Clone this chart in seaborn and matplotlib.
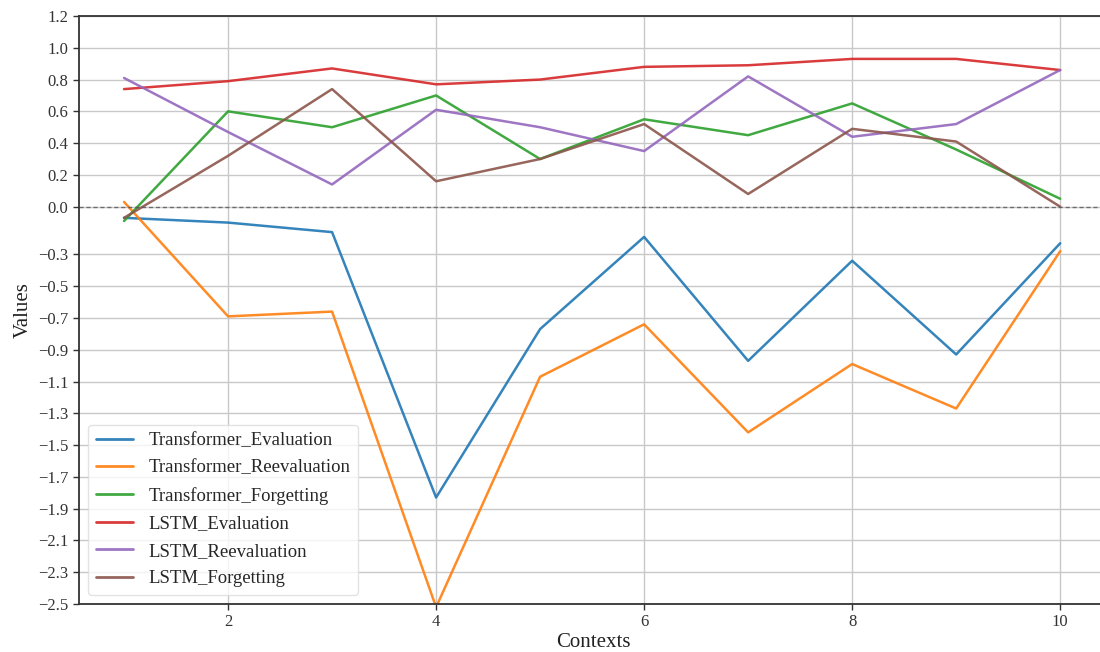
import matplotlib
matplotlib.use("Agg")
import matplotlib.pyplot as plt
import seaborn as sns
import pandas as pd
import numpy as np

contexts = [1, 2, 3, 4, 5, 6, 7, 8, 9, 10]
transformer_evaluation = [-0.07, -0.10, -0.16, -1.83, -0.77, -0.19, -0.97, -0.34, -0.93, -0.23]
transformer_reevaluation = [0.03, -0.69, -0.66, -2.52, -1.07, -0.74, -1.42, -0.99, -1.27, -0.28]
transformer_forgetting = [-0.09, 0.60, 0.50, 0.70, 0.30, 0.55, 0.45, 0.65, 0.36, 0.05]
lstm_evaluation = [0.74, 0.79, 0.87, 0.77, 0.80, 0.88, 0.89, 0.93, 0.93, 0.86]
lstm_reevaluation = [0.81, 0.47, 0.14, 0.61, 0.50, 0.35, 0.82, 0.44, 0.52, 0.86]
lstm_forgetting = [-0.07, 0.32, 0.74, 0.16, 0.30, 0.52, 0.08, 0.49, 0.41, 0.00]

series_names = ["Transformer_Evaluation", "Transformer_Reevaluation", "Transformer_Forgetting",
                "LSTM_Evaluation", "LSTM_Reevaluation", "LSTM_Forgetting"]
series_values = [transformer_evaluation, transformer_reevaluation, transformer_forgetting,
                 lstm_evaluation, lstm_reevaluation, lstm_forgetting]
y_ticks = [1.2, 1.0, 0.8, 0.6, 0.4, 0.2, 0.0, -0.3, -0.5, -0.7, -0.9, -1.1, -1.3, -1.5,
           -1.7, -1.9, -2.1, -2.3, -2.5]

rows = []
for name, vals in zip(series_names, series_values):
    for c, v in zip(contexts, vals):
        rows.append({"Contexts": c, "Values": v, "Series": name})
df = pd.DataFrame(rows)

sns.set_theme(style="whitegrid")
plt.rcParams["font.family"] = ["Liberation Serif", "DejaVu Serif"]
plt.rcParams["axes.unicode_minus"] = True

fig = plt.figure(figsize=(11, 6.52), dpi=100)
ax = fig.add_axes([79 / 1100, (652 - 604) / 652, (1107 - 79) / 1100, (604 - 16) / 652])

palette = sns.color_palette("tab10", 6)
sns.lineplot(data=df, x="Contexts", y="Values", hue="Series", hue_order=series_names,
             palette=palette, linewidth=1.8, alpha=0.9, ax=ax, legend=True)

ax.axhline(0, color="#555555", linestyle="--", linewidth=1.0, alpha=0.8, dashes=(3, 2))

ax.set_xlim(0.567, 10.45)
ax.set_ylim(-2.5, 1.2)
ax.set_yticks(y_ticks)
ax.set_yticklabels([f"{t:.1f}".replace("-", "\u2212") for t in y_ticks])
ax.set_xticks([2, 4, 6, 8, 10])

ax.grid(True, color="#c8c8c8", linewidth=1.0)
for side in ["left", "bottom", "top", "right"]:
    ax.spines[side].set_color("#333333")
    ax.spines[side].set_linewidth(1.3)

ax.tick_params(axis="both", which="both", labelsize=12, colors="#333333", length=4,
               width=1, direction="out", left=True, bottom=True)
ax.set_xlabel("Contexts", fontsize=15, color="#222222", labelpad=2)
ax.set_ylabel("Values", fontsize=15, color="#222222")

leg = ax.legend(loc="lower left", fontsize=13.5, frameon=True, handlelength=2.0,
                borderaxespad=0.5, labelspacing=0.55)
leg.get_frame().set_edgecolor("#dddddd")
leg.get_frame().set_alpha(0.8)
for line in leg.get_lines():
    line.set_linewidth(2.0)

fig.savefig("out.png", dpi=100)
